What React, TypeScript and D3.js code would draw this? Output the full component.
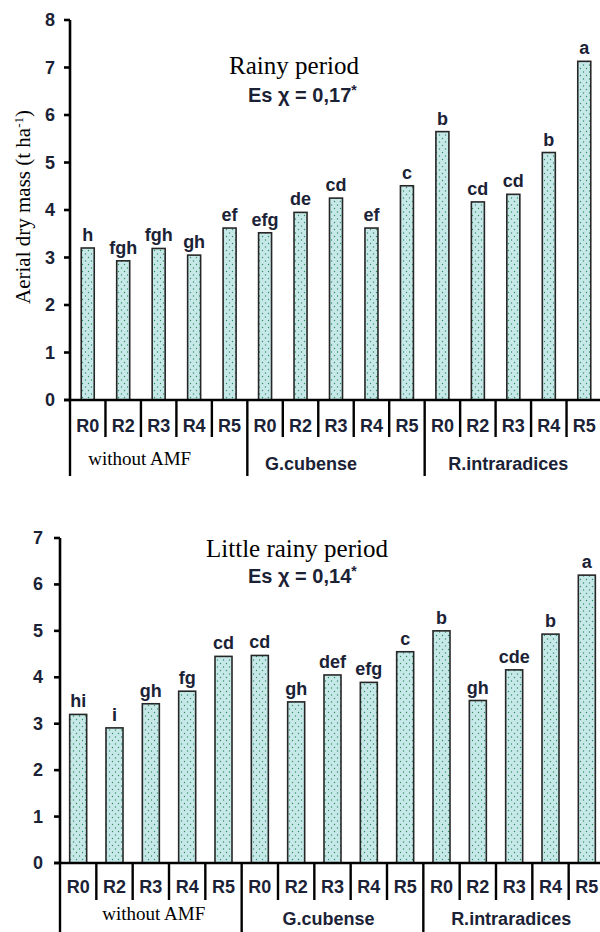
import * as d3 from "d3";

// Data
const treatments = ["R0", "R2", "R3", "R4", "R5"];
const groups = ["without AMF", "G.cubense", "R.intraradices"];

const rainyValues = [3.2, 2.93, 3.19, 3.05, 3.62, 3.52, 3.95, 4.25, 3.62, 4.51, 5.65, 4.17, 4.33, 5.21, 7.13];
const rainyLetters = ["h", "fgh", "fgh", "gh", "ef", "efg", "de", "cd", "ef", "c", "b", "cd", "cd", "b", "a"];

const littleValues = [3.2, 2.91, 3.43, 3.7, 4.45, 4.47, 3.47, 4.05, 3.89, 4.55, 5.0, 3.5, 4.16, 4.93, 6.2];
const littleLetters = ["hi", "i", "gh", "fg", "cd", "cd", "gh", "def", "efg", "c", "b", "gh", "cde", "b", "a"];

const rainyTicks = [0, 1, 2, 3, 4, 5, 6, 7, 8];
const littleTicks = [0, 1, 2, 3, 4, 5, 6, 7];

const INK = "#1b2236";
const SANS = "'Liberation Sans Narrow', 'Liberation Sans', Arial, sans-serif";
const SERIF = "'Liberation Serif', 'Times New Roman', serif";

type PanelProps = {
  values: number[];
  letters: string[];
  ticks: number[];
  x0: number;
  x1: number;
  yTop: number;
  yBase: number;
  barW: number;
  tickLabelX: number;
  subTickLen: number;
  groupBottom: number;
  rLabelY: number;
  groupLabelY: number;
  groupDx: number[];
  title: string;
  titleX: number;
  titleY: number;
  stat: string;
  statX: number;
  statY: number;
};

const Panel = (p: PanelProps) => {
  const cats = groups.flatMap((g) => treatments.map((t) => `${g}|${t}`));
  const x = d3.scaleBand<string>().domain(cats).range([p.x0, p.x1]);
  const y = d3.scaleLinear().domain([0, d3.max(p.ticks) as number]).range([p.yBase, p.yTop]);
  const bw = x.bandwidth();

  return (
    <g>
      {/* title */}
      <text x={p.titleX} y={p.titleY} textAnchor="middle" fontFamily={SERIF} fontSize={25} fill="#000">
        {p.title}
      </text>
      <text x={p.statX} y={p.statY} fontFamily="'Liberation Sans', Arial, sans-serif" fontWeight="bold" fontSize={20} fill={INK}>
        {p.stat}
        <tspan fontSize={14} dy={-7}>*</tspan>
      </text>

      {/* bars */}
      {p.values.map((v, i) => {
        const cx = (x(cats[i]) as number) + bw / 2;
        return (
          <g key={i}>
            <rect
              x={cx - p.barW / 2}
              y={y(v)}
              width={p.barW}
              height={p.yBase - y(v)}
              fill="url(#dots)"
              stroke="#262626"
              strokeWidth={1.6}
            />
            <text
              x={cx}
              y={y(v) - 7}
              textAnchor="middle"
              fontFamily={SANS}
              fontWeight="bold"
              fontSize={18}
              fill={INK}
            >
              {p.letters[i]}
            </text>
          </g>
        );
      })}

      {/* y axis */}
      <line x1={p.x0} x2={p.x0} y1={y(d3.max(p.ticks) as number)} y2={p.yBase} stroke="#000" strokeWidth={2.6} />
      {p.ticks.map((t) => (
        <g key={t}>
          <line x1={p.x0 - 6} x2={p.x0} y1={y(t)} y2={y(t)} stroke="#000" strokeWidth={2.6} />
          <text
            x={p.tickLabelX}
            y={y(t) + 6}
            textAnchor="middle"
            fontFamily={SANS}
            fontWeight="bold"
            fontSize={18}
            fill={INK}
          >
            {t}
          </text>
        </g>
      ))}

      {/* baseline */}
      <line x1={p.x0 - 6} x2={p.x1} y1={p.yBase} y2={p.yBase} stroke="#000" strokeWidth={2.6} />

      {/* category ticks and labels */}
      {cats.map((c, i) => {
        const left = x(c) as number;
        const isGroupStart = i % treatments.length === 0;
        return (
          <g key={c}>
            <line
              x1={left}
              x2={left}
              y1={p.yBase}
              y2={isGroupStart ? p.groupBottom : p.yBase + p.subTickLen}
              stroke="#000"
              strokeWidth={2.4}
            />
            <text
              x={left + bw / 2}
              y={p.rLabelY}
              textAnchor="middle"
              fontFamily={SANS}
              fontWeight="bold"
              fontSize={18}
              fill={INK}
            >
              {treatments[i % treatments.length]}
            </text>
          </g>
        );
      })}
      <line x1={p.x1} x2={p.x1} y1={p.yBase} y2={p.yBase + p.subTickLen} stroke="#000" strokeWidth={2.4} />

      {/* group labels */}
      {groups.map((g, gi) => {
        const start = x(`${g}|R0`) as number;
        const mid = start + (bw * treatments.length) / 2 + p.groupDx[gi];
        const serif = gi === 0;
        return (
          <text
            key={g}
            x={mid}
            y={p.groupLabelY + (serif ? -5 : 0)}
            textAnchor="middle"
            fontFamily={serif ? SERIF : SANS}
            fontWeight={serif ? "normal" : "bold"}
            fontSize={serif ? 19 : 18}
            fill={serif ? "#000" : INK}
          >
            {g}
          </text>
        );
      })}
    </g>
  );
};

export default function App() {
  return (
    <svg
      width={600}
      height={932}
      style={{ position: "absolute", left: 0, top: 0, background: "#fff", display: "block" }}
    >
      <defs>
        <pattern id="dots" width={6} height={7} patternUnits="userSpaceOnUse">
          <rect width={6} height={7} fill="#c6e8e9" />
          <circle cx={1.5} cy={2} r={0.7} fill="#2f8f5b" />
          <circle cx={4.5} cy={5.5} r={0.7} fill="#2f8f5b" />
        </pattern>
      </defs>
      <rect width={600} height={932} fill="#fff" />

      <Panel
        values={rainyValues}
        letters={rainyLetters}
        ticks={rainyTicks}
        x0={70}
        x1={602}
        yTop={20}
        yBase={400}
        barW={13}
        tickLabelX={50}
        subTickLen={37}
        groupBottom={476}
        rLabelY={432}
        groupLabelY={470}
        groupDx={[-19, -25, -5]}
        title="Rainy period"
        titleX={294}
        titleY={74}
        stat="Es χ = 0,17"
        statX={248}
        statY={102}
      />

      <Panel
        values={littleValues}
        letters={littleLetters}
        ticks={littleTicks}
        x0={60}
        x1={605}
        yTop={538}
        yBase={863}
        barW={17}
        tickLabelX={38}
        subTickLen={37}
        groupBottom={940}
        rLabelY={893}
        groupLabelY={925}
        groupDx={[3, -4, -3]}
        title="Little rainy period"
        titleX={297}
        titleY={557}
        stat="Es χ = 0,14"
        statX={248}
        statY={583}
      />

      {/* y axis title */}
      <text
        transform="translate(30,207) rotate(-90)"
        textAnchor="middle"
        fontFamily={SERIF}
        fontSize={21}
        fill="#000"
      >
        Aerial dry mass (t ha
        <tspan fontSize={13} dy={-7}>-1</tspan>
        <tspan dy={7}>)</tspan>
      </text>
    </svg>
  );
}
